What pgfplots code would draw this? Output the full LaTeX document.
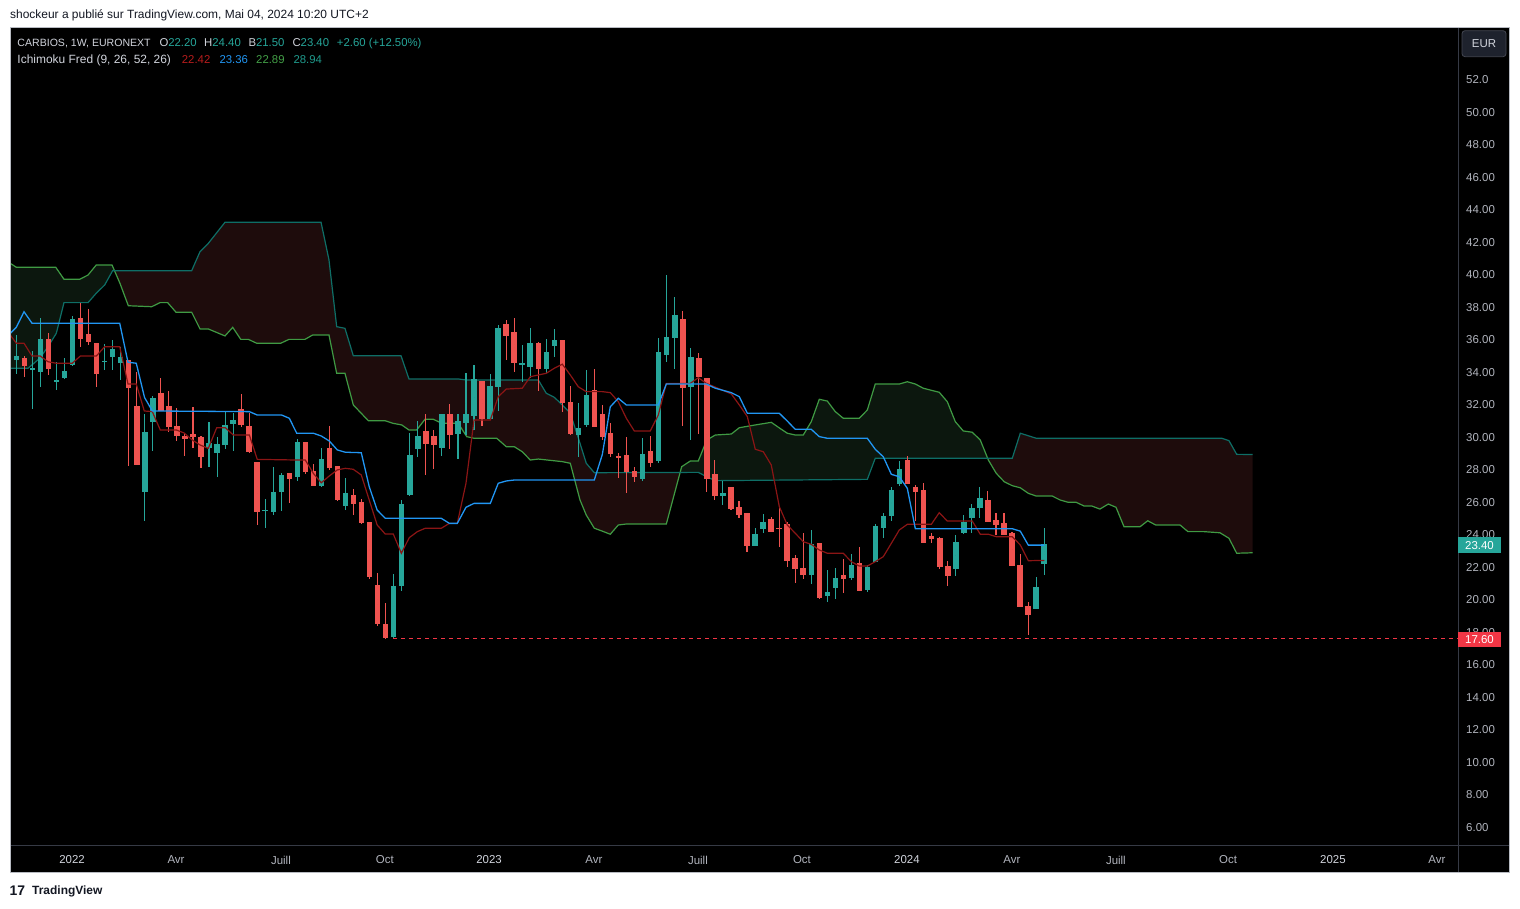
\documentclass[border=0pt]{standalone}
\usepackage{fontspec}
\setmainfont{Liberation Sans}
\usepackage{pgfplots}
\usepackage{pgfplotstable}
\pgfplotsset{compat=1.18}
\usepgfplotslibrary{fillbetween}

\definecolor{tvgreen}{HTML}{26A69A}
\definecolor{tvred}{HTML}{EF5350}
\definecolor{tvred2}{HTML}{F23645}
\definecolor{tenkanc}{HTML}{8B1515}
\definecolor{tenkant}{HTML}{B71C1C}
\definecolor{kijunc}{HTML}{2196F3}
\definecolor{spanac}{HTML}{3F9A43}
\definecolor{spanat}{HTML}{43A047}
\definecolor{spanbc}{HTML}{0E6E66}
\definecolor{spanbt}{HTML}{1F9A8C}
\definecolor{cloudg}{HTML}{0C170E}
\definecolor{cloudr}{HTML}{1E0C0C}
\definecolor{lbl}{HTML}{B2B5BE}
\definecolor{lgd}{HTML}{D1D4DC}
\definecolor{sepc}{HTML}{363A45}
\definecolor{framec}{HTML}{B8BBC2}
\definecolor{hdr}{HTML}{131722}
\definecolor{eurbg}{HTML}{1E222D}
\definecolor{eurbd}{HTML}{434651}

% green candles: week index, open, high, low, close
\pgfplotstableread{
x o h l c
0 34.76 36.30 33.90 35.00
2 34.20 35.31 31.74 34.27
3 34.04 37.36 33.11 36.05
5 33.42 34.65 32.91 33.53
6 33.67 34.88 33.59 34.08
7 34.45 37.49 34.41 37.28
11 34.65 35.74 34.14 34.72
12 34.96 35.99 34.14 35.44
13 34.59 35.58 33.53 34.94
16 26.65 31.43 24.86 30.33
17 30.96 32.56 29.17 32.42
24 29.32 30.92 28.19 29.63
25 29.05 30.00 27.57 29.57
26 29.52 31.54 29.28 30.76
27 30.82 31.48 29.17 31.06
31 25.48 26.20 24.43 25.52
32 25.42 28.15 25.21 26.61
33 26.61 27.78 25.48 27.68
35 27.57 29.88 27.33 29.71
38 27.00 29.32 26.92 28.64
41 25.79 27.47 25.52 26.55
47 17.70 21.58 17.60 20.84
48 20.86 26.14 20.55 25.89
49 26.45 30.25 26.38 28.91
50 29.28 31.00 28.80 30.08
53 29.36 31.43 28.87 31.43
55 30.20 31.43 28.66 31.00
56 30.90 33.98 30.14 31.43
57 31.33 34.45 30.45 33.59
59 31.13 33.90 31.13 33.16
60 33.11 36.91 31.64 36.75
63 34.50 35.68 33.42 34.56
64 34.35 36.75 33.63 35.81
66 34.20 36.05 33.94 35.25
67 35.64 36.67 34.93 35.99
70 30.14 32.13 28.80 30.59
71 30.76 34.14 30.61 32.60
78 27.41 29.94 27.33 28.97
80 28.54 36.10 28.40 35.25
81 35.09 39.99 34.65 36.17
82 36.13 38.62 34.20 37.53
84 33.11 35.48 29.83 34.93
88 26.40 27.33 25.83 26.55
92 23.32 24.40 23.32 24.03
93 24.35 25.26 24.09 24.76
99 21.52 24.29 20.97 23.43
101 20.25 21.83 19.88 20.45
102 20.74 21.93 20.04 21.32
104 21.35 22.81 21.21 22.14
106 20.60 22.14 20.49 22.01
107 22.34 24.66 22.34 24.54
108 24.43 25.32 23.82 25.15
109 25.17 26.96 24.86 26.75
110 27.12 28.56 27.02 28.05
117 21.91 23.98 21.48 23.55
118 24.12 25.21 24.04 24.76
119 25.05 25.89 24.09 25.65
120 25.66 26.92 25.05 26.26
127 19.44 21.38 19.44 20.78
128 22.20 24.40 21.50 23.40
}\greencandles

% red candles
\pgfplotstableread{
x o h l c
1 34.90 35.00 33.73 34.39
4 36.05 36.44 33.84 34.20
8 37.36 38.27 35.58 36.05
9 36.36 37.90 35.68 35.89
10 35.81 35.81 33.10 33.90
14 34.76 34.76 28.25 33.02
15 31.93 34.02 28.29 28.29
18 32.71 33.67 31.64 31.64
19 31.93 32.85 30.34 30.65
20 30.70 31.80 29.79 30.10
21 30.08 30.26 28.85 29.89
22 30.20 31.86 29.32 30.00
23 30.00 30.08 28.13 28.80
28 31.72 32.67 30.61 30.76
29 30.70 31.48 29.01 29.11
30 28.48 28.48 24.60 25.42
34 27.78 27.78 25.97 27.43
36 29.71 29.71 27.74 27.88
37 27.94 28.36 27.00 27.00
39 29.32 30.70 27.99 28.09
40 28.23 28.23 26.09 26.14
42 26.45 26.82 25.21 25.89
43 26.02 26.20 24.66 24.70
44 24.78 24.78 21.26 21.42
45 20.90 21.62 18.40 18.50
46 18.50 19.78 17.60 17.65
51 30.39 31.43 27.68 29.59
52 30.08 30.45 28.05 29.52
54 31.43 32.05 29.28 30.14
58 33.47 33.47 30.71 31.13
61 36.98 37.22 34.76 36.26
62 36.46 37.36 34.04 34.56
65 35.81 35.87 32.87 34.20
68 35.99 35.99 31.58 32.13
69 32.17 33.16 30.14 30.20
72 32.91 34.20 30.65 30.65
73 31.43 31.99 29.83 30.04
74 30.28 30.86 28.80 28.97
75 28.80 29.01 27.47 28.77
76 28.91 30.00 26.59 27.84
77 27.91 28.19 27.26 27.57
79 29.16 30.08 28.19 28.43
83 37.28 37.78 30.71 33.05
85 34.88 35.17 30.20 33.73
86 33.65 33.65 26.65 27.43
87 27.74 28.60 26.14 26.40
89 26.92 26.92 25.52 25.58
90 25.69 26.08 25.01 25.21
91 25.32 25.32 22.95 23.32
94 24.97 25.09 24.19 24.19
95 24.43 25.73 23.26 24.37
96 24.66 24.76 22.03 22.40
97 22.55 22.75 21.05 21.89
98 21.93 24.12 21.27 21.52
100 23.49 23.49 20.05 20.12
103 21.52 22.51 20.39 21.27
105 22.24 23.23 20.55 20.55
111 28.60 28.85 27.12 27.12
112 26.94 27.06 24.86 26.65
113 26.75 27.17 23.47 23.47
114 23.92 24.12 23.47 23.74
115 23.80 23.84 21.89 22.03
116 22.07 22.38 20.86 21.48
121 26.14 26.69 24.80 24.80
122 24.92 25.32 23.98 24.60
123 24.72 25.32 23.98 23.98
124 24.09 24.15 22.09 22.09
125 22.14 22.81 19.57 19.57
126 19.61 19.86 17.83 19.08
}\redcandles

\pgfplotstableread{
x y
-0.75 36.30
0 35.79
0.96 35.79
1.96 35.00
2.99 35.00
3.95 34.65
4.98 34.56
6.97 34.56
7.97 35.00
9.96 35.00
11.01 35.58
12.88 35.58
13.91 33.28
14.94 33.28
15.94 31.62
16.94 31.58
17.93 30.45
19.93 30.45
20.92 30.26
21.92 29.83
22.91 29.52
23.91 29.32
24.96 30.59
26.03 30.59
27.02 30.14
29.02 30.14
30.01 28.64
35.00 28.60
35.99 28.60
36.99 27.78
37.98 27.20
38.98 27.62
39.98 27.99
40.97 28.09
41.96 28.03
42.96 27.68
43.95 26.14
44.94 24.60
45.95 24.04
46.95 24.04
47.95 22.86
48.94 23.82
49.94 24.19
50.93 24.40
52.93 24.40
53.93 24.70
54.92 24.70
56.00 27.17
57.00 31.06
59.03 31.06
60.02 32.50
61.02 32.97
63.01 33.02
64.01 33.73
66.00 33.94
67.00 34.25
68.00 34.50
68.99 33.84
69.99 33.11
70.98 32.81
72.98 32.81
73.97 32.75
74.97 32.19
75.97 31.17
76.96 30.39
78.95 30.39
79.95 31.37
80.95 33.32
83.94 33.32
84.93 33.67
85.93 33.32
89.04 32.67
90.04 31.99
91.04 31.27
92.03 29.26
93.03 29.11
94.02 28.29
95.02 25.73
96.01 24.60
97.01 24.09
98.00 23.57
99.00 23.41
100.00 23.06
101.00 22.86
102.99 22.86
103.99 22.34
104.98 22.07
105.98 22.07
106.97 22.34
107.97 22.65
108.97 23.47
109.96 24.29
110.96 24.64
113.95 24.64
114.94 25.36
115.94 24.84
119.05 24.84
120.05 24.03
121.05 24.03
122.04 23.88
124.03 23.88
125.03 23.37
126.03 22.40
128.04 22.42
}\tenkan

\pgfplotstableread{
x y
-0.75 36.40
0 36.77
0.96 37.73
1.96 37.02
12.88 37.02
13.91 34.62
14.94 34.56
15.97 32.45
16.94 31.62
29.02 31.58
30.01 31.37
33.05 31.37
34.00 31.17
34.92 30.25
36.99 30.25
37.98 30.08
38.98 29.77
39.98 29.22
40.97 29.08
42.96 29.05
43.95 26.96
44.94 25.52
45.95 25.01
52.93 25.01
53.93 24.70
54.92 24.70
56.00 25.69
57.00 25.93
59.03 25.93
60.02 27.17
61.02 27.31
62.02 27.37
71.98 27.37
72.98 28.94
73.97 31.88
74.97 32.40
75.97 31.99
79.95 31.99
80.95 33.28
85.93 33.28
87.05 33.02
89.04 32.75
90.04 32.50
91.04 31.48
95.02 31.48
96.01 31.00
97.01 30.49
99.00 30.49
100.00 30.04
101.00 29.94
105.98 29.94
106.97 29.26
107.97 28.80
108.97 27.72
109.96 27.57
110.96 26.86
111.96 24.37
124.03 24.37
125.03 24.22
126.03 23.36
128.04 23.36
}\kijun

\pgfplotstableread{
x y
-0.75 40.71
0 40.47
4.91 40.47
5.94 39.73
7.90 39.73
8.93 39.99
9.96 40.61
11.92 40.61
12.91 39.48
13.95 38.10
16.86 38.04
17.90 38.29
18.85 38.29
19.89 37.70
21.84 37.70
22.88 36.67
23.91 36.67
25.99 36.24
26.95 36.77
27.95 36.03
28.89 36.03
29.94 35.79
32.93 35.79
33.96 36.03
35.95 36.03
36.91 36.30
38.94 36.30
39.90 33.94
40.93 33.94
41.97 31.99
43.84 31.02
45.92 31.02
46.91 30.86
48.00 30.76
48.90 30.45
49.86 30.45
50.90 31.11
51.93 31.11
52.98 30.86
55.04 30.86
56.09 30.04
57.00 29.94
59.83 29.94
61.02 29.42
62.02 29.42
63.01 29.11
64.01 28.60
65.01 28.66
68.00 28.50
68.99 28.40
70.20 26.14
70.98 25.21
71.98 24.40
72.98 24.22
73.97 24.03
74.97 24.60
75.97 24.66
80.95 24.66
82.86 28.19
83.94 28.54
84.93 28.54
85.98 29.83
87.05 30.14
89.04 30.20
90.04 30.59
92.03 30.76
94.02 30.92
95.10 30.55
96.01 30.25
97.01 30.14
98.00 30.14
99.00 30.96
100.00 32.34
101.00 32.23
101.99 31.58
102.99 31.17
104.98 31.17
105.98 31.68
106.97 33.28
109.96 33.28
110.96 33.42
111.96 33.28
112.95 33.02
114.94 32.77
115.94 32.19
116.94 30.96
117.93 30.39
119.05 30.31
120.05 29.83
121.05 28.60
122.04 27.78
123.04 27.26
124.03 27.02
125.03 26.89
126.03 26.55
127.02 26.38
129.02 26.38
129.98 26.14
130.97 26.00
131.97 26.00
132.97 25.77
133.92 25.77
134.95 25.58
135.99 25.89
136.95 25.69
137.95 24.49
139.94 24.49
140.90 24.86
141.89 24.60
144.92 24.60
145.91 24.19
147.91 24.19
149.90 24.12
151.02 23.78
151.98 22.86
153.97 22.89
}\spanA

\pgfplotstableread{
x y
-0.75 34.25
1.46 34.25
2.91 34.86
3.95 35.58
4.98 36.40
5.94 38.29
8.93 38.29
9.96 38.87
11.01 39.38
12.00 40.26
21.84 40.26
22.88 41.43
23.91 41.94
25.99 43.24
37.95 43.24
38.94 40.92
39.90 36.81
40.93 36.71
41.97 35.02
47.91 35.02
48.90 33.59
55.04 33.59
56.00 33.53
65.01 33.53
66.00 32.71
67.00 32.46
68.00 31.99
68.99 31.48
69.99 29.96
70.98 28.40
71.98 27.82
84.93 27.84
85.98 27.57
87.05 27.33
105.98 27.41
106.97 28.71
124.03 28.71
125.03 30.25
127.02 29.94
150.11 29.94
151.02 29.79
151.98 28.95
153.97 28.94
}\spanB

\begin{document}
\begin{tikzpicture}
% white page margins (kept clear of the chart area)
\fill[white] (0bp,0bp) rectangle (1520bp,36.3bp);
\fill[white] (0bp,881.7bp) rectangle (1520bp,909bp);
\fill[white] (0bp,36.3bp) rectangle (10bp,881.7bp);
\fill[white] (1509.3bp,36.3bp) rectangle (1520bp,881.7bp);
\begin{axis}[
  at={(10bp,36.3bp)}, anchor=south west,
  width=1499.3bp, height=845.4bp, scale only axis,
  xmin=-0.785, xmax=185.93, ymin=3.19, ymax=55.245,
  set layers,
  axis background/.style={fill=black},
  axis line style={draw=none},
  major tick length=0pt,
  tick style={draw=none},
  ytick={6,8,...,52},
  yticklabels={6.00,8.00,10.00,12.00,14.00,16.00,18.00,20.00,22.00,24.00,26.00,28.00,30.00,32.00,34.00,36.00,38.00,40.00,42.00,44.00,46.00,48.00,50.00,52.0},
  yticklabel pos=right,
  yticklabel style={anchor=west, inner sep=0pt, xshift=-43.3bp, text=lbl, font=\fontsize{11.5}{13}\selectfont},
  xtick={6.94,19.89,32.96,45.9,58.87,71.94,84.89,97.84,110.92,123.99,136.94,150.9,163.97,176.92},
  xticklabels={\textcolor{lgd}{2022},Avr,Juill,Oct,\textcolor{lgd}{2023},Avr,Juill,Oct,\textcolor{lgd}{2024},Avr,Juill,Oct,\textcolor{lgd}{2025},Avr},
  xticklabel style={anchor=center, inner sep=0pt, yshift=12.7bp, text=lbl, font=\fontsize{11.5}{13}\selectfont},
]
% Ichimoku cloud
\addplot[spanac, line width=1.2bp, name path=A] table[x=x,y=y] {\spanA};
\addplot[spanbc, line width=1.2bp, name path=B] table[x=x,y=y] {\spanB};
\addplot[fill=cloudg, draw=none] fill between[of=A and B, split,
   every even segment/.style={fill=cloudg},
   every odd segment/.style={fill=cloudr}];
% wicks
\addplot[only marks, mark size=0pt, mark options={draw=none, fill=none}, forget plot,
  error bars/.cd, y dir=both, y explicit, error mark=none,
  error bar style={draw=tvgreen, line width=1.1bp}]
  table[x=x, y expr={(\thisrow{h}+\thisrow{l})/2}, y error expr={(\thisrow{h}-\thisrow{l})/2}] {\greencandles};
\addplot[only marks, mark size=0pt, mark options={draw=none, fill=none}, forget plot,
  error bars/.cd, y dir=both, y explicit, error mark=none,
  error bar style={draw=tvred, line width=1.1bp}]
  table[x=x, y expr={(\thisrow{h}+\thisrow{l})/2}, y error expr={(\thisrow{h}-\thisrow{l})/2}] {\redcandles};
% bodies
\addplot[only marks, mark size=0pt, mark options={draw=none, fill=none}, forget plot,
  error bars/.cd, y dir=both, y explicit, error mark=none,
  error bar style={draw=tvgreen, line width=5.5bp}]
  table[x=x, y expr={(\thisrow{o}+\thisrow{c})/2}, y error expr={max(abs(\thisrow{c}-\thisrow{o})/2,0.035)}] {\greencandles};
\addplot[only marks, mark size=0pt, mark options={draw=none, fill=none}, forget plot,
  error bars/.cd, y dir=both, y explicit, error mark=none,
  error bar style={draw=tvred, line width=5.5bp}]
  table[x=x, y expr={(\thisrow{o}+\thisrow{c})/2}, y error expr={max(abs(\thisrow{c}-\thisrow{o})/2,0.035)}] {\redcandles};
% tenkan / kijun
\addplot[tenkanc, line width=1.2bp] table[x=x,y=y] {\tenkan};
\addplot[kijunc, line width=1.3bp] table[x=x,y=y] {\kijun};
% low line
\addplot[tvred2, line width=0.9bp, dash pattern=on 4bp off 4bp] coordinates {(46.95,17.60) (179.58,17.60)};
\end{axis}
% separators and frame
\draw[sepc, line width=1bp] (1458.3bp,36.3bp) -- (1458.3bp,881.7bp);
\draw[sepc, line width=1bp] (10bp,63bp) -- (1509.3bp,63bp);
\draw[framec, line width=1bp] (10bp,36.3bp) rectangle (1509.3bp,881.7bp);
% price boxes
\fill[tvgreen] (1458.3bp,355.7bp) rectangle (1500.7bp,371.7bp);
\node[text=white, inner sep=0pt, font=\fontsize{11.5}{13}\selectfont] at (1479.5bp,363.7bp) {23.40};
\fill[tvred2] (1458.3bp,261.7bp) rectangle (1500.7bp,277.3bp);
\node[text=white, inner sep=0pt, font=\fontsize{11.5}{13}\selectfont] at (1479.5bp,269.5bp) {17.60};
% EUR button
\draw[fill=eurbg, draw=eurbd, rounded corners=3bp, line width=0.8bp] (1462bp,852.3bp) rectangle (1506bp,878.3bp);
\node[text=lgd, inner sep=0pt, font=\fontsize{11.5}{13}\selectfont] at (1484bp,865.3bp) {EUR};
% header
\node[anchor=base west, inner sep=0pt, text=hdr, font=\fontsize{12}{14}\selectfont] at (10bp,890bp) {shockeur a publié sur TradingView.com, Mai 04, 2024 10:20 UTC+2};
% legend line 1
\node[anchor=base west, inner sep=0pt, text=lgd, font=\fontsize{10.6}{13}\selectfont] at (17.3bp,862.3bp) {CARBIOS, 1W, EURONEXT};
\node[anchor=base west, inner sep=0pt, font=\fontsize{11.4}{13}\selectfont] at (159.3bp,862.3bp) {\textcolor{lgd}{O}\textcolor{tvgreen}{22.20}};
\node[anchor=base west, inner sep=0pt, font=\fontsize{11.4}{13}\selectfont] at (204bp,862.3bp) {\textcolor{lgd}{H}\textcolor{tvgreen}{24.40}};
\node[anchor=base west, inner sep=0pt, font=\fontsize{11.4}{13}\selectfont] at (248.3bp,862.3bp) {\textcolor{lgd}{B}\textcolor{tvgreen}{21.50}};
\node[anchor=base west, inner sep=0pt, font=\fontsize{11.4}{13}\selectfont] at (292.3bp,862.3bp) {\textcolor{lgd}{C}\textcolor{tvgreen}{23.40}};
\node[anchor=base west, inner sep=0pt, text=tvgreen, font=\fontsize{11.4}{13}\selectfont] at (336.7bp,862.3bp) {+2.60 (+12.50\%)};
% legend line 2
\node[anchor=base west, inner sep=0pt, text=lgd, font=\fontsize{12}{13}\selectfont] at (17.3bp,845.7bp) {Ichimoku Fred (9, 26, 52, 26)};
\node[anchor=base west, inner sep=0pt, text=tenkant, font=\fontsize{11.4}{13}\selectfont] at (181.7bp,845.7bp) {22.42};
\node[anchor=base west, inner sep=0pt, text=kijunc, font=\fontsize{11.4}{13}\selectfont] at (219.3bp,845.7bp) {23.36};
\node[anchor=base west, inner sep=0pt, text=spanat, font=\fontsize{11.4}{13}\selectfont] at (256bp,845.7bp) {22.89};
\node[anchor=base west, inner sep=0pt, text=spanbt, font=\fontsize{11.4}{13}\selectfont] at (293.3bp,845.7bp) {28.94};
% footer logo
\node[anchor=west, inner sep=0pt, text=hdr, font=\fontsize{14}{14}\bfseries\selectfont] at (9.5bp,18bp) {17};
\node[anchor=west, inner sep=0pt, text=hdr, font=\fontsize{12}{14}\bfseries\selectfont] at (32bp,18bp) {TradingView};
\pgfresetboundingbox
\path[use as bounding box] (0bp,0bp) rectangle (1520bp,909bp);
\end{tikzpicture}
\end{document}
